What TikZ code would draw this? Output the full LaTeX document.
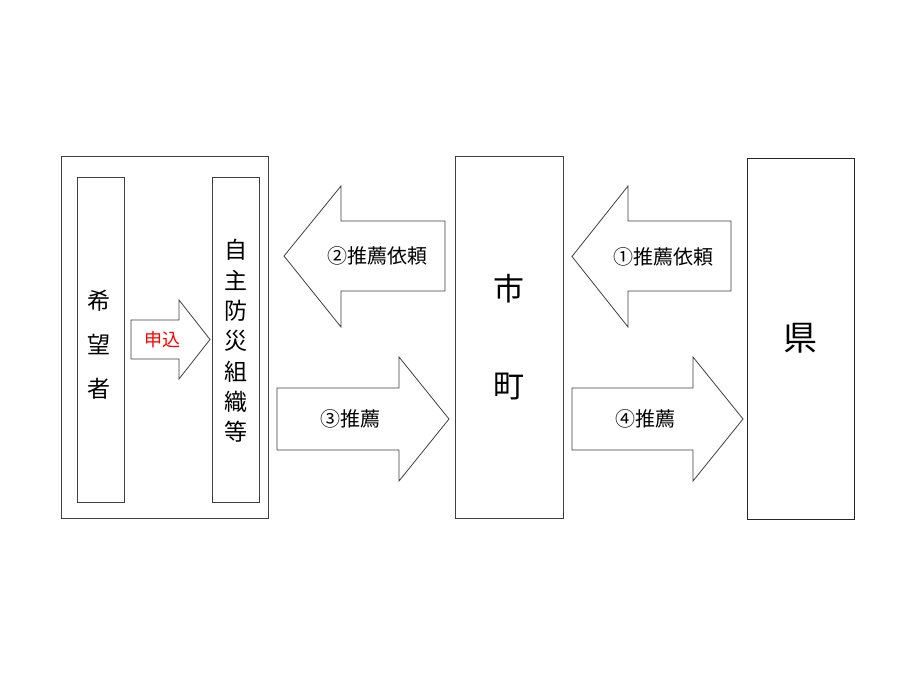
\documentclass[tikz,border=0pt]{standalone}
\usepackage{fontspec}
\newfontfamily\jp{Noto Sans CJK JP}
\begin{document}
\begin{tikzpicture}[x=1pt,y=-1pt,
  box/.style={draw=black!75,line width=0.8pt},
  arr/.style={draw=black!75,line width=0.8pt,fill=white,line join=miter},
  lbl/.style={font=\jp\fontsize{20}{20}\selectfont,inner sep=0pt}]
\useasboundingbox[fill=white] (0,0) rectangle (900,675);
% outer group box
\draw[box] (61,156) rectangle (268,518);
\draw[box] (77,177) rectangle (124,502);
\draw[box] (212,177) rectangle (259,502);
\node[inner sep=0pt,align=center,font=\jp\fontsize{23}{44}\selectfont] (kibo) at (99,345) {希\\望\\者};
\node[inner sep=0pt,align=center,font=\jp\fontsize{23}{30.3}\selectfont] (jishu) at (236,341) {自\\主\\防\\災\\組\\織\\等};
% apply arrow
\draw[arr] (131,320) -- (179,320) -- (179,300) -- (210,339.5) -- (179,379) -- (179,359) -- (131,359) -- cycle;
\node[inner sep=0pt,text=red,font=\jp\fontsize{18}{18}\selectfont] (moushi) at (162,340) {申込};
% middle box
\draw[box] (455,156) rectangle (563,518);
\node[inner sep=0pt,font=\jp\fontsize{31}{31}\selectfont] (shi) at (508.5,288.5) {市};
\node[inner sep=0pt,font=\jp\fontsize{31}{31}\selectfont] (cho) at (508.5,386.5) {町};
% prefecture box
\draw[box,draw=black!85] (747,158) rectangle (854,519);
\node[inner sep=0pt,font=\jp\fontsize{34}{34}\selectfont] (ken) at (800,338.5) {県};
% arrow 2
\draw[arr] (284,256) -- (341,186) -- (341,221) -- (445,221) -- (445,291) -- (341,291) -- (341,327) -- cycle;
\node[lbl] (a2) at (377,256) {②推薦依頼};
% arrow 3
\draw[arr] (277,388) -- (399,388) -- (399,357) -- (449,419) -- (399,481) -- (399,450) -- (277,450) -- cycle;
\node[lbl] (a3) at (350,418.5) {③推薦};
% arrow 1
\draw[arr] (572,256.5) -- (628,186) -- (628,221) -- (731,221) -- (731,291) -- (628,291) -- (628,327) -- cycle;
\node[lbl] (a1) at (663,256.5) {①推薦依頼};
% arrow 4
\draw[arr] (572,388) -- (693,388) -- (693,357) -- (743,419) -- (693,481) -- (693,450) -- (572,450) -- cycle;
\node[lbl] (a4) at (645,418.5) {④推薦};
\end{tikzpicture}
\end{document}
